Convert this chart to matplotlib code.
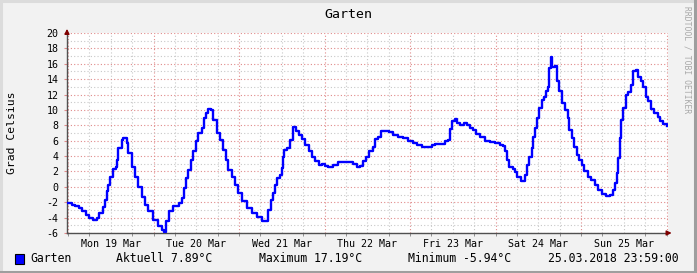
import matplotlib.pyplot as plt
from matplotlib.patches import Rectangle
from matplotlib.lines import Line2D

# hours since Mon 19 Mar 00:00, temperature in degC
hours = [0, 1, 2, 3, 4, 5, 6, 7, 8, 8.8, 9.7, 10.4, 10.9, 11.3, 11.8, 12.5, 13.5, 13.8,
         14.1, 15.1, 15.5, 16.5, 16.9, 17.9, 18.8, 19.7, 20.7, 21.6, 22.5, 23.9, 25.3,
         26.3, 26.8, 27.6, 28.4, 29.4, 31, 31.9, 32.6, 33.1, 33.8, 34.4, 35.2, 35.9, 36.6,
         37.5, 38.2, 38.7, 39.4, 40, 40.8, 41.7, 42.7, 43.4, 44.3, 45, 45.9, 46.9, 47.8,
         48.8, 50.2, 51.6, 53, 54.4, 55.6, 56.2, 56.9, 57.5, 58.1, 58.7, 59.5, 60, 60.3,
         60.6, 61.4, 62.3, 63, 64, 64.9, 65.6, 66.5, 67.5, 68.4, 69.3, 70.3, 71.2, 72.1,
         73.1, 74.5, 75.9, 78.7, 80.1, 81, 82, 82.7, 83.6, 84.6, 85.5, 86.2, 87.1, 87.8,
         89, 90.2, 91.3, 92.7, 94.1, 95.5, 96.7, 97.9, 99.3, 100.7, 102.1, 103, 104.4,
         105.8, 106.7, 107.2, 107.9, 108.6, 109.3, 110, 111.2, 112.1, 112.8, 113.8, 114.5,
         115.6, 117, 118.5, 119.9, 121.3, 122.2, 122.7, 123.1, 123.9, 124.8, 125.5, 126.1,
         127.1, 127.8, 128.3, 128.7, 129.4, 130.1, 130.6, 131.1, 131.7, 132.3, 133, 133.6,
         134.2, 134.8, 135.1, 135.5, 135.9, 136.7, 137.2, 137.9, 138.6, 139.5, 140.3,
         140.7, 141.4, 142.1, 142.9, 143.5, 144.2, 144.9, 145.9, 146.8, 147.8, 148.7,
         149.8, 151, 152, 152.9, 153.6, 154, 154.5, 154.8, 155.3, 155.8, 156.5, 157.2,
         157.9, 158.6, 159.3, 160, 160.8, 161.5, 162.1, 162.9, 163.6, 164.6, 165.5, 166.1,
         167.1, 168]
temps = [-2.1, -2.3, -2.5, -2.8, -3.2, -3.7, -4.0, -4.3, -4.1, -3.4, -2.6, -1.7, -0.6, 0.3,
         1.3, 2.3, 2.6, 3.5, 5.0, 6.1, 6.4, 5.7, 4.4, 2.6, 1.3, 0.0, -1.3, -2.3, -3.2, -4.3,
         -5.1, -5.6, -5.9, -4.5, -3.2, -2.5, -2.1, -1.5, -0.2, 1.1, 2.2, 3.5, 4.6, 5.9, 7.0,
         7.6, 8.9, 9.6, 10.1, 10.0, 8.7, 7.0, 6.1, 4.8, 3.5, 2.2, 1.3, 0.3, -0.8, -1.9, -2.8,
         -3.4, -3.9, -4.4, -4.5, -3.0, -1.7, -0.8, 0.3, 1.1, 1.6, 2.4, 3.9, 4.8, 5.0, 6.1,
         7.8, 7.2, 6.8, 6.2, 5.5, 4.6, 3.9, 3.3, 2.9, 3.0, 2.7, 2.6, 2.9, 3.2, 3.2, 3.0, 2.6,
         2.7, 3.3, 3.9, 4.6, 5.2, 6.2, 6.5, 7.3, 7.3, 7.1, 6.8, 6.5, 6.3, 6.0, 5.7, 5.5, 5.2,
         5.2, 5.4, 5.6, 5.55, 5.9, 6.1, 7.5, 8.5, 8.8, 8.3, 8.1, 8.3, 8.1, 7.6, 7.4, 6.9, 6.5,
         6.0, 5.8, 5.7, 5.5, 5.3, 4.6, 3.5, 2.6, 2.3, 1.9, 1.3, 0.7, 0.7, 1.6, 2.9, 3.9, 5.0,
         6.5, 7.6, 8.9, 10.2, 11.3, 11.7, 12.4, 13.0, 15.4, 16.9, 15.6, 15.7, 13.7, 12.4,
         10.9, 10.0, 8.9, 7.4, 6.3, 5.2, 4.2, 3.5, 2.9, 2.0, 1.3, 0.9, 0.3, -0.4, -0.9, -1.2,
         -1.0, -0.4, 0.5, 1.8, 3.7, 6.3, 8.7, 10.2, 12.0, 12.3, 13.3, 15.0, 15.2, 14.3, 13.8,
         13.0, 11.7, 11.1, 10.1, 9.6, 9.1, 8.5, 8.2, 7.9]

day_labels = ["Mon 19 Mar", "Tue 20 Mar", "Wed 21 Mar", "Thu 22 Mar",
              "Fri 23 Mar", "Sat 24 Mar", "Sun 25 Mar"]
y_ticks = list(range(-6, 21, 2))

title = "Garten"
ylabel = "Grad Celsius"
legend_name = "Garten"
stat_cur = "Aktuell 7.89°C"
stat_max = "Maximum 17.19°C"
stat_min = "Minimum -5.94°C"
stamp = "25.03.2018 23:59:00"

W, H = 697, 273
mono = "DejaVu Sans Mono"
fig = plt.figure(figsize=(W / 100, H / 100), dpi=100)
fig.patch.set_facecolor("#f2f2f2")

# shaded frame like rrdtool: light top/left, dark bottom/right
def frame_line(xs, ys, c):
    fig.lines.append(Line2D([x / W for x in xs], [1 - y / H for y in ys],
                            transform=fig.transFigure, color=c, linewidth=2.2))

frame_line([0, 697], [1, 1], "#dcdcdc")
frame_line([1, 1], [0, 273], "#dcdcdc")
frame_line([695, 695], [0, 273], "#9e9e9e")
frame_line([0, 697], [271.5, 271.5], "#9e9e9e")

ax = fig.add_axes([67 / W, (H - 233) / H, 601 / W, 200 / H])
ax.set_facecolor("white")
ax.set_xlim(-0.3, 168.4)
ax.set_ylim(-6, 20)

# grid: minor grey, major red, both dotted
for h in range(0, 169, 6):
    c = "#e08a8a" if h % 24 == 0 else "#c8c8c8"
    ax.axvline(h, color=c, linestyle=(0, (1, 2)), linewidth=0.8, zorder=1)
for v in range(-6, 21):
    c = "#e08a8a" if v % 2 == 0 else "#c8c8c8"
    ax.axhline(v, color=c, linestyle=(0, (1, 2)), linewidth=0.8, zorder=1)

ax.plot(hours, temps, drawstyle="steps-post", color="#0000ff", linewidth=1.7, zorder=3)

for s in ["top", "right"]:
    ax.spines[s].set_visible(False)
ax.spines["left"].set_color("#505050")
ax.spines["bottom"].set_color("#505050")
ax.spines["left"].set_linewidth(1)
ax.spines["bottom"].set_linewidth(1)

ax.set_yticks(y_ticks)
ax.set_yticklabels([str(v) for v in y_ticks], fontfamily=mono, fontsize=7.2)
ax.set_xticks([12 + 24 * i for i in range(7)])
ax.set_xticklabels(day_labels, fontfamily=mono, fontsize=7.2)
ax.tick_params(axis="y", length=2, color="#e08a8a", pad=4)
ax.tick_params(axis="x", length=0, pad=4)
ax.set_xticks(range(0, 169, 6), minor=True)
ax.tick_params(axis="x", which="minor", length=2, color="#808080")

# arrows
ax.annotate("", xy=(-0.3, 20.9), xytext=(-0.3, 19.5), annotation_clip=False,
            arrowprops=dict(arrowstyle="-|>", color="#7f0000", lw=1, mutation_scale=7))
ax.annotate("", xy=(170.2, -6), xytext=(167.5, -6), annotation_clip=False,
            arrowprops=dict(arrowstyle="-|>", color="#7f0000", lw=1, mutation_scale=7))

fig.text(348 / W, 1 - 14 / H, title, ha="center", va="center", fontfamily=mono, fontsize=9.5)
fig.text(12 / W, 1 - 133 / H, ylabel, ha="center", va="center", rotation=90,
         fontfamily=mono, fontsize=8.2)
fig.text(687 / W, 1 - 60 / H, "RRDTOOL / TOBI OETIKER", ha="center", va="center",
         rotation=270, fontfamily=mono, fontsize=5.8, color="#a8a8a8")

# legend line
ly = 1 - 259 / H
fig.patches.append(Rectangle((15 / W, 1 - 264 / H), 9 / W, 10 / H, transform=fig.transFigure,
                             facecolor="#0000ff", edgecolor="black", linewidth=0.8))
fig.text(30 / W, ly, legend_name, va="center", fontfamily=mono, fontsize=8.3)
fig.text(116 / W, ly, stat_cur, va="center", fontfamily=mono, fontsize=8.3)
fig.text(259 / W, ly, stat_max, va="center", fontfamily=mono, fontsize=8.3)
fig.text(408 / W, ly, stat_min, va="center", fontfamily=mono, fontsize=8.3)
fig.text(548 / W, ly, stamp, va="center", fontfamily=mono, fontsize=8.3)

fig.savefig("out.png", dpi=100, facecolor=fig.get_facecolor())
